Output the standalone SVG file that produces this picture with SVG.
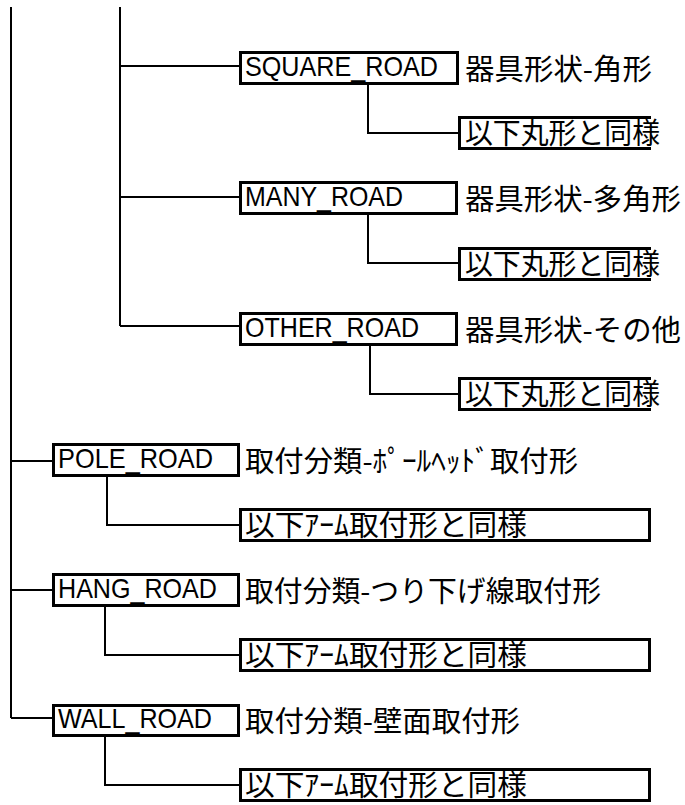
<svg xmlns="http://www.w3.org/2000/svg" width="685" height="805" viewBox="0 0 685 805">
<style>
.bg{fill:#fff}
.box{fill:#fff;stroke:#000;stroke-width:3}
.open{fill:none;stroke:#000;stroke-width:3}
.con{fill:none;stroke:#000;stroke-width:2}
.lat{font-family:"Liberation Sans",Arial,sans-serif;font-size:28px;fill:#000}
.jp{font-family:"Noto Sans CJK JP","Noto Sans CJK SC",sans-serif;font-size:29px;fill:#000}
</style>
<rect class="bg" x="0" y="0" width="685" height="805"/>
<g id="connectors">
<path class="con" d="M11 7V718"/>
<path class="con" d="M120 7V326"/>
<path class="con" d="M120 66H239M120 197H239M120 326H239"/>
<path class="con" d="M368 85V133H458"/>
<path class="con" d="M368 215V263H458"/>
<path class="con" d="M370 346V394H458"/>
<path class="con" d="M11 461H52M11 590H52M11 718H52"/>
<path class="con" d="M107 477V525H239"/>
<path class="con" d="M105 607V655H239"/>
<path class="con" d="M105 737V785H239"/>
</g>
<g id="square_road">
<rect class="box" x="240.5" y="52.5" width="217" height="31"/>
<text class="lat" x="245" y="76" textLength="193" lengthAdjust="spacingAndGlyphs">SQUARE_ROAD</text>
<text class="jp" x="465" y="80" textLength="187" lengthAdjust="spacingAndGlyphs">器具形状-角形</text>
</g>
<g id="square_sub">
<path class="open" d="M651 117.5H459.5V148.5H651"/>
<text class="jp" x="465" y="144" textLength="195" lengthAdjust="spacingAndGlyphs">以下丸形と同様</text>
</g>
<g id="many_road">
<rect class="box" x="240.5" y="182.5" width="216" height="31"/>
<text class="lat" x="245" y="206" textLength="158" lengthAdjust="spacingAndGlyphs">MANY_ROAD</text>
<text class="jp" x="465" y="210" textLength="216" lengthAdjust="spacingAndGlyphs">器具形状-多角形</text>
</g>
<g id="many_sub">
<path class="open" d="M651 248.5H459.5V279.5H651"/>
<text class="jp" x="465" y="275" textLength="195" lengthAdjust="spacingAndGlyphs">以下丸形と同様</text>
</g>
<g id="other_road">
<rect class="box" x="240.5" y="313.5" width="216" height="31"/>
<text class="lat" x="245" y="337" textLength="174" lengthAdjust="spacingAndGlyphs">OTHER_ROAD</text>
<text class="jp" x="465" y="341" textLength="216" lengthAdjust="spacingAndGlyphs">器具形状-その他</text>
</g>
<g id="other_sub">
<path class="open" d="M651 378.5H459.5V409.5H651"/>
<text class="jp" x="465" y="405" textLength="195" lengthAdjust="spacingAndGlyphs">以下丸形と同様</text>
</g>
<g id="pole_road">
<rect class="box" x="53.5" y="444.5" width="185" height="31"/>
<text class="lat" x="58" y="468" textLength="155" lengthAdjust="spacingAndGlyphs">POLE_ROAD</text>
<text class="jp" x="245" y="472" textLength="333" lengthAdjust="spacingAndGlyphs">取付分類-ﾎﾟｰﾙﾍｯﾄﾞ取付形</text>
</g>
<g id="pole_sub">
<rect class="box" x="240.5" y="509.5" width="409" height="31"/>
<text class="jp" x="245" y="536" textLength="282" lengthAdjust="spacingAndGlyphs">以下ｱｰﾑ取付形と同様</text>
</g>
<g id="hang_road">
<rect class="box" x="53.5" y="574.5" width="185" height="31"/>
<text class="lat" x="58" y="598" textLength="159" lengthAdjust="spacingAndGlyphs">HANG_ROAD</text>
<text class="jp" x="245" y="602" textLength="356" lengthAdjust="spacingAndGlyphs">取付分類-つり下げ線取付形</text>
</g>
<g id="hang_sub">
<rect class="box" x="240.5" y="639.5" width="409" height="31"/>
<text class="jp" x="245" y="666" textLength="282" lengthAdjust="spacingAndGlyphs">以下ｱｰﾑ取付形と同様</text>
</g>
<g id="wall_road">
<rect class="box" x="53.5" y="705.5" width="185" height="30"/>
<text class="lat" x="58" y="728" textLength="154" lengthAdjust="spacingAndGlyphs">WALL_ROAD</text>
<text class="jp" x="245" y="732" textLength="275" lengthAdjust="spacingAndGlyphs">取付分類-壁面取付形</text>
</g>
<g id="wall_sub">
<rect class="box" x="240.5" y="769.5" width="409" height="31"/>
<text class="jp" x="245" y="796" textLength="282" lengthAdjust="spacingAndGlyphs">以下ｱｰﾑ取付形と同様</text>
</g>
</svg>
